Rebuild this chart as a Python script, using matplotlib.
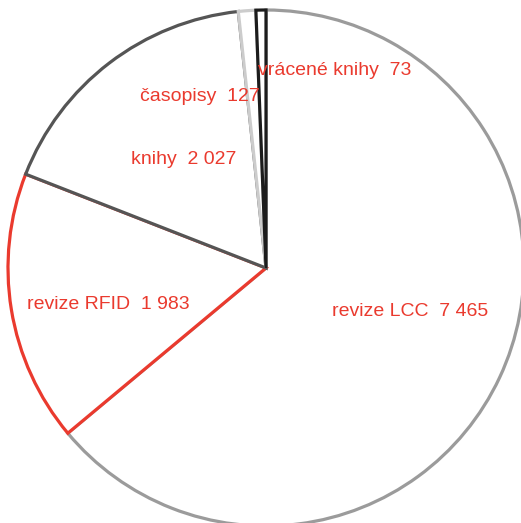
import matplotlib.pyplot as plt

categories = ['revize LCC', 'revize RFID', 'knihy', 'časopisy', 'vrácené knihy']
values = [7465, 1983, 2027, 127, 73]
edge_colors = ['#9b9b9b', '#ea3a2e', '#555555', '#cccccc', '#1c1c1c']
label_pos = [(0.558, -0.167), (-0.612, -0.143), (-0.318, 0.422),
             (-0.256, 0.663), (0.267, 0.767)]

RED = '#ea3a2e'


def fmt(v):
    return f'{v:,}'.replace(',', ' ')


fig = plt.figure(figsize=(5.21, 5.23), dpi=100)
ax = fig.add_axes([0, 0, 1, 1])

wedges, _ = ax.pie(values, startangle=90, counterclock=False,
                   colors=['white'] * len(values),
                   wedgeprops={'linewidth': 2.3})
# stroke only the inside of each wedge so neighbouring edges sit side by side
for w, c in zip(wedges, edge_colors):
    w.set_edgecolor(c)
    w.set_clip_path(w)

r = 258.0
ax.set_xlim(-266 / r, 255 / r)
ax.set_ylim(-255 / r, 268 / r)
ax.set_aspect('auto')
ax.axis('off')

for name, v, (x, y) in zip(categories, values, label_pos):
    ax.text(x, y, f'{name}  {fmt(v)}', color=RED, fontsize=14,
            family='Liberation Sans', ha='center', va='center', zorder=5)

fig.savefig('out.png', dpi=100)
